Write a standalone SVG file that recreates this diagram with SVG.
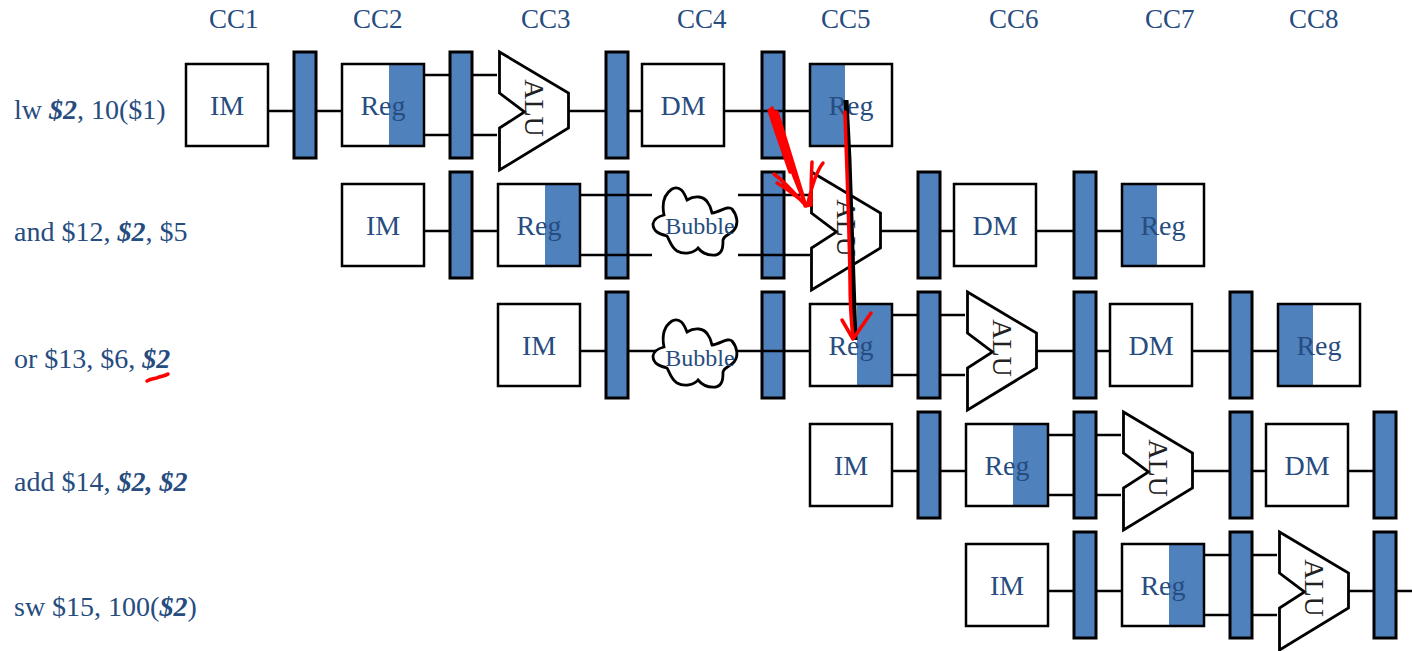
<svg xmlns="http://www.w3.org/2000/svg" xmlns:xlink="http://www.w3.org/1999/xlink" width="1412" height="651" viewBox="0 0 1412 651">
<style>
text{font-family:"Liberation Serif","Times New Roman",serif;fill:#264c80}
.cc{font-size:27px}
.lb{font-size:28px}
.t{font-size:28px;text-anchor:middle}
.bt{font-size:24px;text-anchor:middle}
.al{font-size:28px;text-anchor:middle;fill:#222}
.box{fill:#fff;stroke:#000;stroke-width:2.500}
.pl{fill:#fff}
.blue{fill:#4f81bd}
.frame{fill:none;stroke:#000;stroke-width:2.500}
.bar{fill:#4f81bd;stroke:#000;stroke-width:3}
.alu{fill:#fff;stroke:#000;stroke-width:2.800;stroke-linejoin:miter}
.bub{fill:#fff;stroke:#000;stroke-width:2.800}
.w{stroke:#000;stroke-width:2.500;fill:none}
.r{stroke:#f00;stroke-width:3.500;fill:none;stroke-linecap:round;stroke-linejoin:round}
</style>
<defs>
<rect id="b" class="bar" width="22" height="106"/>
<polygon id="a" class="alu" points="0,0 69,41 69,76 0,118 0,76 25,60 0,41"/>
<path id="c" class="bub" d="M664,215 C662,205 663,195 672,189 C680,185 684,192 687,200 C695,195 704,196 708,203 C711,207 711,210 712,213 C720,212 728,205 732,209 C737,215 739,224 734,230 C730,235 724,235 723,240 C723,246 723,253 716,255 C708,256 703,254 698,248 C694,253 684,255 677,251 C671,247 670,241 667,236 C660,234 653,232 653,224 C654,218 660,216 664,215 Z"/>
</defs>
<g id="connectors">
<path class="w" d="M268,111H294M316,111H342M424,75H450M424,135H450M472,75H497M472,135H497M569,111H606M628,111H642M724,111H810"/>
<path class="w" d="M424,231H450M472,231H498M580,195H652M580,255H652M738,195H810M738,255H810M881,231H918M940,231H954M1036,231H1074M1096,231H1122"/>
<path class="w" d="M580,351H606M628,351H810M892,315H918M892,375H918M940,315H965M940,375H965M1037,351H1074M1096,351H1110M1192,351H1230M1252,351H1278"/>
<path class="w" d="M892,471H918M940,471H966M1048,435H1074M1048,495H1074M1096,435H1121M1096,495H1121M1193,471H1230M1252,471H1266M1348,471H1374"/>
<path class="w" d="M1048,591H1074M1096,591H1122M1204,555H1230M1204,615H1230M1252,555H1277M1252,615H1277M1349,591H1374M1396,591H1412"/>
</g>
<g id="headers">
<text class="cc" x="209" y="28">CC1</text><text class="cc" x="353" y="28">CC2</text><text class="cc" x="521" y="28">CC3</text><text class="cc" x="677" y="28">CC4</text><text class="cc" x="821" y="28">CC5</text><text class="cc" x="989" y="28">CC6</text><text class="cc" x="1145" y="28">CC7</text><text class="cc" x="1289" y="28">CC8</text>
</g>
<g id="labels">
<text class="lb" x="14" y="119">lw <tspan font-weight="bold" font-style="italic">$2</tspan>, 10($1)</text>
<text class="lb" x="14" y="241">and $12, <tspan font-weight="bold" font-style="italic">$2</tspan>, $5</text>
<text class="lb" x="14" y="368">or $13, $6, <tspan font-weight="bold" font-style="italic">$2</tspan></text>
<text class="lb" x="14" y="491">add $14, <tspan font-weight="bold" font-style="italic">$2, $2</tspan></text>
<text class="lb" x="14" y="616">sw $15, 100(<tspan font-weight="bold" font-style="italic">$2</tspan>)</text>
</g>
<g id="row1">
<g id="r1-im"><rect class="box" x="186" y="64" width="82" height="82"/><text class="t" x="227" y="115">IM</text></g>
<use id="r1-b1" xlink:href="#b" x="294" y="52"/>
<g id="r1-reg"><rect class="pl" x="342" y="64" width="82" height="82"/><rect class="blue" x="389" y="65" width="35" height="80"/><rect class="frame" x="342" y="64" width="82" height="82"/><text class="t" x="383" y="115">Reg</text></g>
<use id="r1-b2" xlink:href="#b" x="450" y="52"/>
<g id="r1-alu"><use xlink:href="#a" x="499.500" y="52"/><text class="al" transform="translate(525,108) rotate(90)">ALU</text></g>
<use id="r1-b3" xlink:href="#b" x="606" y="52"/>
<g id="r1-dm"><rect class="box" x="642" y="64" width="82" height="82"/><text class="t" x="683" y="115">DM</text></g>
<use id="r1-b4" xlink:href="#b" x="762" y="52"/>
<path class="w" d="M762,111H784"/>
<g id="r1-wb"><rect class="pl" x="810" y="64" width="82" height="82"/><rect class="blue" x="810" y="65" width="35" height="80"/><rect class="frame" x="810" y="64" width="82" height="82"/><text class="t" x="851" y="115">Reg</text></g>
</g>
<g id="row2">
<g id="r2-im"><rect class="box" x="342" y="184" width="82" height="82"/><text class="t" x="383" y="235">IM</text></g>
<use id="r2-b1" xlink:href="#b" x="450" y="172"/>
<g id="r2-reg"><rect class="pl" x="498" y="184" width="82" height="82"/><rect class="blue" x="545" y="185" width="35" height="80"/><rect class="frame" x="498" y="184" width="82" height="82"/><text class="t" x="539" y="235">Reg</text></g>
<use id="r2-b2" xlink:href="#b" x="606" y="172"/>
<path class="w" d="M606,195H628M606,255H628"/>
<g id="r2-bubble"><use xlink:href="#c"/><text class="bt" x="700" y="234">Bubble</text></g>
<use id="r2-b3" xlink:href="#b" x="762" y="172"/>
<path class="w" d="M762,195H784M762,255H784"/>
<g id="r2-alu"><use xlink:href="#a" x="811.500" y="172"/><text class="al" transform="translate(837,228) rotate(90)">ALU</text></g>
<use id="r2-b4" xlink:href="#b" x="918" y="172"/>
<g id="r2-dm"><rect class="box" x="954" y="184" width="82" height="82"/><text class="t" x="995" y="235">DM</text></g>
<use id="r2-b5" xlink:href="#b" x="1074" y="172"/>
<g id="r2-wb"><rect class="pl" x="1122" y="184" width="82" height="82"/><rect class="blue" x="1122" y="185" width="35" height="80"/><rect class="frame" x="1122" y="184" width="82" height="82"/><text class="t" x="1163" y="235">Reg</text></g>
</g>
<g id="row3">
<g id="r3-im"><rect class="box" x="498" y="304" width="82" height="82"/><text class="t" x="539" y="355">IM</text></g>
<use id="r3-b1" xlink:href="#b" x="606" y="292"/>
<g id="r3-bubble"><use xlink:href="#c" y="132"/><text class="bt" x="700" y="366">Bubble</text></g>
<use id="r3-b2" xlink:href="#b" x="762" y="292"/>
<path class="w" d="M762,351H784"/>
<g id="r3-reg"><rect class="pl" x="810" y="304" width="82" height="82"/><rect class="blue" x="857" y="305" width="35" height="80"/><rect class="frame" x="810" y="304" width="82" height="82"/><text class="t" x="851" y="355">Reg</text></g>
<use id="r3-b3" xlink:href="#b" x="918" y="292"/>
<g id="r3-alu"><use xlink:href="#a" x="967.500" y="292"/><text class="al" transform="translate(993,348) rotate(90)">ALU</text></g>
<use id="r3-b4" xlink:href="#b" x="1074" y="292"/>
<g id="r3-dm"><rect class="box" x="1110" y="304" width="82" height="82"/><text class="t" x="1151" y="355">DM</text></g>
<use id="r3-b5" xlink:href="#b" x="1230" y="292"/>
<g id="r3-wb"><rect class="pl" x="1278" y="304" width="82" height="82"/><rect class="blue" x="1278" y="305" width="35" height="80"/><rect class="frame" x="1278" y="304" width="82" height="82"/><text class="t" x="1319" y="355">Reg</text></g>
</g>
<g id="row4">
<g id="r4-im"><rect class="box" x="810" y="424" width="82" height="82"/><text class="t" x="851" y="475">IM</text></g>
<use id="r4-b1" xlink:href="#b" x="918" y="412"/>
<g id="r4-reg"><rect class="pl" x="966" y="424" width="82" height="82"/><rect class="blue" x="1013" y="425" width="35" height="80"/><rect class="frame" x="966" y="424" width="82" height="82"/><text class="t" x="1007" y="475">Reg</text></g>
<use id="r4-b2" xlink:href="#b" x="1074" y="412"/>
<g id="r4-alu"><use xlink:href="#a" x="1123.500" y="412"/><text class="al" transform="translate(1149,468) rotate(90)">ALU</text></g>
<use id="r4-b3" xlink:href="#b" x="1230" y="412"/>
<g id="r4-dm"><rect class="box" x="1266" y="424" width="82" height="82"/><text class="t" x="1307" y="475">DM</text></g>
<use id="r4-b4" xlink:href="#b" x="1374" y="412"/>
</g>
<g id="row5">
<g id="r5-im"><rect class="box" x="966" y="544" width="82" height="82"/><text class="t" x="1007" y="595">IM</text></g>
<use id="r5-b1" xlink:href="#b" x="1074" y="532"/>
<g id="r5-reg"><rect class="pl" x="1122" y="544" width="82" height="82"/><rect class="blue" x="1169" y="545" width="35" height="80"/><rect class="frame" x="1122" y="544" width="82" height="82"/><text class="t" x="1163" y="595">Reg</text></g>
<use id="r5-b2" xlink:href="#b" x="1230" y="532"/>
<g id="r5-alu"><use xlink:href="#a" x="1279.500" y="532"/><text class="al" transform="translate(1305,588) rotate(90)">ALU</text></g>
<use id="r5-b3" xlink:href="#b" x="1374" y="532"/>
</g>
<g id="annotations">
<path d="M846,100L849,160L855,340" stroke="#000" stroke-width="5" fill="none"/>
<path class="r" d="M845,112C846,150 849,215 850,280C850,300 851,320 853,338"/>
<path class="r" stroke-width="4" d="M842,320L853,339L871,313"/>
<path class="r" d="M769,110C778,130 788,165 806,205M772,108C780,135 792,170 804,200M775,112C782,135 790,150 799,185M770,113C775,130 781,145 790,172M777,112C786,140 795,170 803,196"/>
<path class="r" d="M774,174C785,182 796,195 806,206M777,183C788,189 798,198 806,204M805,206L811,205C811,195 811,180 812,162M808,203C812,185 816,172 823,163"/>
<path d="M147,381C152,378 156,379 159,377C162,376 165,376 168,374" stroke="#f00" stroke-width="3.500" fill="none" stroke-linecap="round"/>
</g>
</svg>
